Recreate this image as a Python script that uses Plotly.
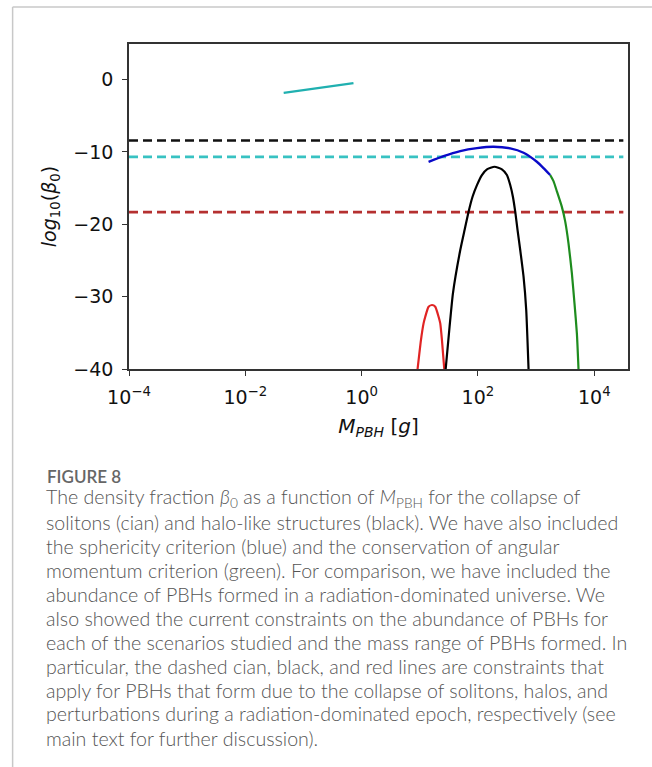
import plotly.graph_objects as go

# ---- data (log10 of mass in grams, log10 beta0) ----
soliton_logM = [-1.34, -0.74, -0.14]
soliton_y = [-1.84, -1.17, -0.50]

sph_logM = [1.151, 1.409, 1.696, 1.983, 2.268, 2.555, 2.784, 3.013, 3.127, 3.242]
sph_y = [-11.37, -10.58, -9.89, -9.48, -9.29, -9.52, -10.12, -11.37, -12.24, -13.20]

ang_logM = [3.242, 3.299, 3.357, 3.443, 3.500, 3.557, 3.615, 3.660, 3.701, 3.729]
ang_y = [-13.20, -14.05, -15.45, -17.6, -19.6, -22.64, -26.8, -30.93, -35.07, -40.0]

halo_logM = [1.445, 1.512, 1.570, 1.696, 1.770, 1.839, 1.907, 1.983, 2.068, 2.155, 2.285,
             2.412, 2.498, 2.555, 2.601, 2.641, 2.681, 2.727, 2.784, 2.830, 2.870]
halo_y = [-40.0, -34.16, -29.54, -23.56, -20.8, -18.27, -16.2, -14.59, -13.2, -12.42, -12.06,
          -12.42, -13.2, -14.59, -16.2, -18.27, -20.8, -23.56, -27.25, -31.85, -40.0]

rad_logM = [0.962, 1.020, 1.065, 1.094, 1.151, 1.210, 1.266, 1.323, 1.352, 1.381, 1.421]
rad_y = [-40.0, -36.0, -33.7, -32.78, -31.4, -31.16, -31.4, -32.78, -33.7, -36.0, -40.0]

constraint_names = ["halos", "solitons", "radiation"]
constraint_levels = [-8.43, -10.69, -18.33]
constraint_span = [-4.0, 4.5]

x_tick_exps = [-4, -2, 0, 2, 4]
y_ticks = [0, -10, -20, -30, -40]

caption_head = "FIGURE 8"
caption_lines = [
    "The density fraction <i>β</i><sub>0</sub> as a function of <i>M</i><sub>PBH</sub> for the collapse of",
    "solitons (cian) and halo-like structures (black). We have also included",
    "the sphericity criterion (blue) and the conservation of angular",
    "momentum criterion (green). For comparison, we have included the",
    "abundance of PBHs formed in a radiation-dominated universe. We",
    "also showed the current constraints on the abundance of PBHs for",
    "each of the scenarios studied and the mass range of PBHs formed. In",
    "particular, the dashed cian, black, and red lines are constraints that",
    "apply for PBHs that form due to the collapse of solitons, halos, and",
    "perturbations during a radiation-dominated epoch, respectively (see",
    "main text for further discussion).",
]

def tenpow(v):
    return [10 ** a for a in v]

W, H = 652, 767
L, R, T, B = 128.5, 628.0, 44.0, 369.0

fig = go.Figure()

dash_colors = {"halos": "#111111", "solitons": "#38c2c2", "radiation": "#b53030"}
for name, lvl in zip(constraint_names, constraint_levels):
    fig.add_trace(go.Scatter(
        x=tenpow(constraint_span), y=[lvl, lvl], mode="lines",
        line=dict(color=dash_colors[name], width=2.6, dash="9px,5px"),
        showlegend=False, hoverinfo="skip"))

sm = 0.5
fig.add_trace(go.Scatter(x=tenpow(rad_logM), y=rad_y, mode="lines",
                         line=dict(color="#e02424", width=2.2, shape="spline", smoothing=sm), showlegend=False))
fig.add_trace(go.Scatter(x=tenpow(halo_logM), y=halo_y, mode="lines",
                         line=dict(color="#000000", width=2.2, shape="spline", smoothing=sm), showlegend=False))
fig.add_trace(go.Scatter(x=tenpow(ang_logM), y=ang_y, mode="lines",
                         line=dict(color="#1e8c1e", width=2.2, shape="spline", smoothing=sm), showlegend=False))
fig.add_trace(go.Scatter(x=tenpow(sph_logM), y=sph_y, mode="lines",
                         line=dict(color="#0a0ac8", width=2.4, shape="spline", smoothing=sm), showlegend=False))
fig.add_trace(go.Scatter(x=tenpow(soliton_logM), y=soliton_y, mode="lines",
                         line=dict(color="#20b0b0", width=2.2), showlegend=False))

tickfont = dict(family="DejaVu Sans", size=19, color="#111111")
fig.update_xaxes(
    type="log", range=[-4, 4.58],
    tickvals=[10 ** e for e in x_tick_exps],
    ticktext=["10<sup>%s</sup>" % (str(e).replace("-", "−")) for e in x_tick_exps],
    ticks="outside", ticklen=5, tickwidth=1.3, tickcolor="#333333",
    showline=True, linecolor="#333333", linewidth=1.5, mirror=True,
    showgrid=False, zeroline=False, tickfont=tickfont, ticklabelstandoff=5,
    title=dict(text="<i>M<sub>PBH</sub></i> [<i>g</i>]",
               font=dict(family="DejaVu Sans", size=20, color="#111111"), standoff=12),
)
fig.update_yaxes(
    range=[-40, 4.9], tickvals=y_ticks,
    ticks="outside", ticklen=5, tickwidth=1.3, tickcolor="#333333",
    showline=True, linecolor="#333333", linewidth=1.5, mirror=True,
    showgrid=False, zeroline=False, tickfont=tickfont, ticklabelstandoff=5,
    title=dict(text="<i>log</i><sub>10</sub>(<i>β</i><sub>0</sub>)",
               font=dict(family="DejaVu Sans", size=19, color="#111111"), standoff=12),
)

def px_x(px):
    return (px - L) / (R - L)

def px_y(py):
    return (B - py) / (B - T)

anns = [dict(text=caption_head, x=px_x(44), y=px_y(477), xref="paper", yref="paper",
             xanchor="left", yanchor="middle", showarrow=False,
             font=dict(family="Lato", size=17, color="#666666", weight=600))]
for i, line in enumerate(caption_lines):
    anns.append(dict(text=line, x=px_x(43), y=px_y(498 + 24 * i), xref="paper", yref="paper",
                     xanchor="left", yanchor="middle", showarrow=False,
                     font=dict(family="Lato", size=19.6, color="#555555", weight=300)))

shapes = [
    dict(type="line", xref="paper", yref="paper", x0=px_x(12), x1=px_x(652), y0=px_y(7), y1=px_y(7),
         line=dict(color="#c8c8c8", width=1.5)),
    dict(type="line", xref="paper", yref="paper", x0=px_x(12), x1=px_x(12), y0=px_y(7), y1=px_y(767),
         line=dict(color="#c8c8c8", width=1.5)),
]

fig.update_layout(
    width=W, height=H,
    margin=dict(l=L, r=W - R, t=T, b=H - B),
    paper_bgcolor="white", plot_bgcolor="white",
    annotations=anns, shapes=shapes, showlegend=False,
)

fig.write_html("out.html")
